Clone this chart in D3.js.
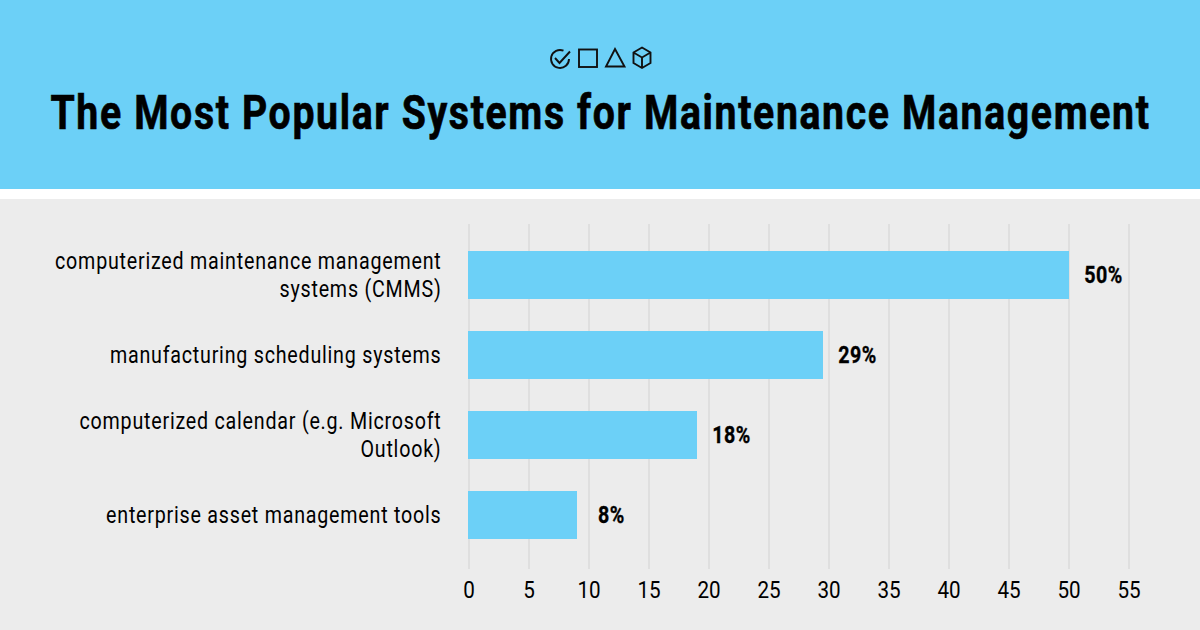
<!DOCTYPE html>
<html><head><meta charset="utf-8">
<script src="https://cdn.jsdelivr.net/npm/d3@7/dist/d3.min.js"></script>
<style>html,body{margin:0;padding:0;background:#fff}svg{display:block}text{font-family:Roboto,sans-serif}</style>
</head><body><div id="c"></div>
<script>
const titleText = "The Most Popular Systems for Maintenance Management";
const categories = ["cmms","scheduling","calendar","eam"];
const categoryLines = [["computerized maintenance management","systems (CMMS)"],["manufacturing scheduling systems"],["computerized calendar (e.g. Microsoft","Outlook)"],["enterprise asset management tools"]];
const barValues = [50,29.5,19,9];
const valueLabels = ["50%","29%","18%","8%"];
const xTicks = [0,5,10,15,20,25,30,35,40,45,50,55];

const W=1200,H=630,blue="#6cd0f7",gray="#ececec",grid="#dfdfdf";
const svg=d3.select("#c").append("svg").attr("width",W).attr("height",H);
svg.append("rect").attr("width",W).attr("height",H).attr("fill","#fff");
svg.append("rect").attr("width",W).attr("height",189).attr("fill",blue);
svg.append("rect").attr("y",199).attr("width",W).attr("height",431).attr("fill",gray);

const x=d3.scaleLinear().domain([0,55]).range([469,1129]);
const y=d3.scaleBand().domain(categories).range([235,555]).paddingInner(0.4).paddingOuter(0.2);

function ctext(g,px,py,str,size,weight,anchor,cond){
  return g.append("text").attr("transform",`translate(${px},${py}) scale(${cond},1)`)
   .attr("font-size",size).attr("font-weight",weight).attr("text-anchor",anchor).attr("fill","#000").text(str);
}
svg.append("text").attr("transform",`translate(600.5,129) scale(.8,1)`).attr("font-size",49).attr("font-weight",700)
  .attr("letter-spacing",2.06).attr("text-anchor","middle").attr("fill","#000")
  .attr("stroke","#000").attr("stroke-width",.7).text(titleText);

const ic=svg.append("g").attr("fill","none").attr("stroke","#111").attr("stroke-width",1.9).attr("stroke-linejoin","miter");
ic.append("path").attr("d","M569 59 A9 9 0 1 1 563.5 50.7");
ic.append("path").attr("d","M555 58 L559.5 63 L570 51.5");
ic.append("rect").attr("x",579).attr("y",49.5).attr("width",18).attr("height",17.5);
ic.append("path").attr("d","M615 49 L624.5 66.5 L606 66.5 Z");
ic.append("path").attr("d","M642 47.5 L650.5 52.5 L650.5 63 L642 68 L633.5 63 L633.5 52.5 Z M633.5 52.5 L642 57.5 L650.5 52.5 M642 57.5 L642 68");

svg.append("g").selectAll("line").data(xTicks).join("line")
  .attr("x1",d=>x(d)).attr("x2",d=>x(d)).attr("y1",224).attr("y2",569).attr("stroke",grid).attr("stroke-width",2);
svg.append("g").selectAll("rect").data(categories).join("rect")
  .attr("x",x(0)-1).attr("y",d=>y(d)).attr("height",y.bandwidth())
  .attr("width",(d,i)=>x(barValues[i])-x(0)+1).attr("fill",blue);
const gl=svg.append("g");
categories.forEach((c,i)=>{
  const lines=categoryLines[i], mid=y(c)+y.bandwidth()/2;
  lines.forEach((t,j)=>{
    ctext(gl,441.5,mid+(j-(lines.length-1)/2)*28+8,t,24,400,"end",.82).attr("letter-spacing",.94);
  });
  ctext(gl,x(barValues[i])+34.5,mid+8,valueLabels[i],24,700,"middle",.82).attr("letter-spacing",.6).attr("stroke","#000").attr("stroke-width",.35);
});
xTicks.forEach(d=>ctext(gl,x(d),598,d,24,400,"middle",.86));
</script></body></html>
